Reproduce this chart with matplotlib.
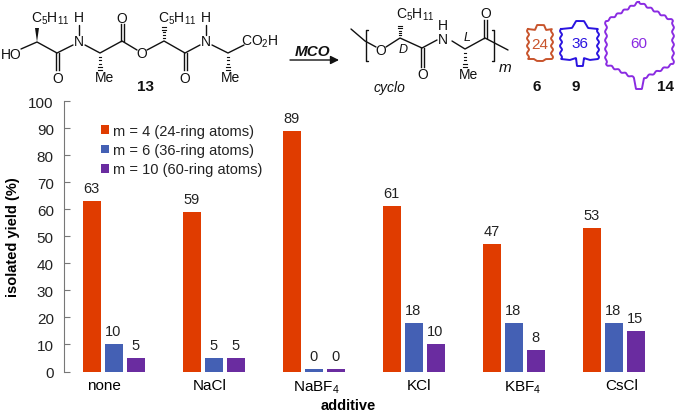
import numpy as np
import matplotlib
matplotlib.use("Agg")
import matplotlib.pyplot as plt

plt.rcParams['font.family'] = ['Liberation Sans', 'DejaVu Sans']
plt.rcParams['mathtext.fontset'] = 'custom'
plt.rcParams['mathtext.rm'] = 'Liberation Sans'

W, H = 677, 414
additives = ['none', 'NaCl', 'NaBF$_{\\mathrm{4}}$', 'KCl', 'KBF$_{\\mathrm{4}}$', 'CsCl']
yield_24 = [63, 59, 89, 61, 47, 53]
yield_36 = [10, 5, 1, 18, 18, 18]
yield_60 = [5, 5, 1, 10, 8, 15]
labels_24 = ['63', '59', '89', '61', '47', '53']
labels_36 = ['10', '5', '0', '18', '18', '18']
labels_60 = ['5', '5', '0', '10', '8', '15']
legend_names = ['m = 4 (24-ring atoms)', 'm = 6 (36-ring atoms)', 'm = 10 (60-ring atoms)']
colors = ['#E03C00', '#4460B4', '#6A2CA0']

fig = plt.figure(figsize=(W / 100, H / 100), dpi=100)
fig.patch.set_facecolor('white')

# ---- chart ----
L, R, T, B = 63.5, 663.5, 102.0, 372.5
ax = fig.add_axes([L / W, 1 - B / H, (R - L) / W, (B - T) / H])
x = np.arange(len(additives))
off, bw = 0.22, 0.18
series = [(yield_24, labels_24), (yield_36, labels_36), (yield_60, labels_60)]
for i, (vals, labs) in enumerate(series):
    bars = ax.bar(x + (i - 1) * off, vals, bw, color=colors[i], label=legend_names[i], linewidth=0)
    for r, lab in zip(bars, labs):
        ax.text(r.get_x() + r.get_width() / 2, r.get_height() + 2.3, lab, ha='center', va='bottom',
                fontsize=10.5, color='#222222')
ax.set_xlim(-0.5, 5.5)
ax.set_ylim(0, 100)
ax.set_yticks(range(0, 101, 10))
tick_shift = np.array([-0.10, -0.035, 0.03, 0.05, 0.09, 0.08])
ax.set_xticks(x + tick_shift)
ax.set_xticklabels(additives, fontsize=11, color='black')
ax.tick_params(axis='y', direction='in', length=4.5, width=0.8, color='#777777', labelsize=11, pad=7, labelcolor='#222222')
ax.tick_params(axis='x', length=0, pad=5)
for s in ['top', 'right', 'bottom']:
    ax.spines[s].set_visible(False)
ax.spines['left'].set_color('#777777')
ax.spines['left'].set_linewidth(0.8)
ax.patch.set_alpha(0)
ax.set_ylabel('isolated yield (%)', fontsize=10.5, fontweight='bold', va='center')
ax.yaxis.set_label_coords((13 - L) / (R - L), (B - 237.5) / (B - T))
ax.set_xlabel('additive', fontsize=10.5, fontweight='bold', va='center')
ax.xaxis.set_label_coords((348 - L) / (R - L), (B - 406.5) / (B - T))
ax.legend(loc='upper left', bbox_to_anchor=((98 - L) / (R - L), (B - 122) / (B - T)), frameon=False, fontsize=10.5,
          handlelength=0.55, handleheight=0.55, handletextpad=0.3, labelspacing=0.36, borderpad=0, borderaxespad=0.2,
          labelcolor='#222222')

# ---- scheme (pixel coordinates) ----
sc = fig.add_axes([0, 0, 1, 1])
sc.set_xlim(0, W)
sc.set_ylim(H, 0)
sc.axis('off')
sc.patch.set_alpha(0)
K = '#111111'

def bond(*pts, lw=1.0, c=K):
    xs, ys = zip(*pts)
    sc.plot(xs, ys, color=c, lw=lw, solid_capstyle='round')

def dbl(x0, y0, x1, y1, d=3.0):
    sc.plot([x0 - d / 2, x1 - d / 2], [y0, y1], color=K, lw=1.0)
    sc.plot([x0 + d / 2, x1 + d / 2], [y0, y1], color=K, lw=1.0)

def hash_w(x0, y0, y1, n=6):
    for t_ in np.linspace(0.05, 1, n):
        yy = y0 + (y1 - y0) * t_
        hw = 0.3 + 1.7 * t_
        sc.plot([x0 - hw, x0 + hw], [yy, yy], color=K, lw=0.8)

def wedge(x0, y0, y1):
    sc.fill([x0, x0 - 2, x0 + 2], [y0, y1, y1], color=K, lw=0)

def t(xx, yy, s, size=10, **kw):
    sc.text(xx, yy, s, ha='center', va='center', fontsize=size, color=kw.pop('color', K), **kw)

# compound 13
bond((21, 50), (37, 43), (57, 54), (73, 46))
bond((85, 46), (100, 54), (122, 42), (137, 51))
bond((147, 51), (164, 42), (185, 54), (200, 46))
bond((212, 46), (228, 54), (244, 46))
bond((79, 36), (79, 26))
bond((206, 36), (206, 26))
dbl(57, 54, 57, 71)
dbl(122, 42, 122, 25)
dbl(185, 54, 185, 71)
wedge(37, 43, 29)
hash_w(100, 54, 71)
hash_w(164, 42, 28)
hash_w(228, 54, 71)
t(11, 55, 'HO')
t(50, 19, 'C$_{\\mathrm{5}}$H$_{\\mathrm{11}}$')
t(79, 18, 'H')
t(79, 42, 'N')
t(58, 79, 'O')
t(122, 19, 'O')
t(104, 78, 'Me')
t(142, 54, 'O')
t(177, 19, 'C$_{\\mathrm{5}}$H$_{\\mathrm{11}}$')
t(206, 18, 'H')
t(206, 42, 'N')
t(185, 79, 'O')
t(231, 78, 'Me')
t(260, 42, 'CO$_{\\mathrm{2}}$H')
t(145, 87, '13', size=11, fontweight='bold')

# arrow
sc.annotate('', xy=(339, 61), xytext=(290, 61), arrowprops=dict(arrowstyle='-|>,head_length=0.5,head_width=0.25', color=K, lw=1.0, shrinkA=0, shrinkB=0))
t(313, 52, 'MCO', size=11, fontweight='bold', fontstyle='italic')

# repeat unit
bond((351, 30), (365, 42), (376, 48))
bond((386, 48), (400, 39), (422, 49), (437, 41))
bond((452, 42), (465, 50), (485, 39), (508, 51))
bond((368, 31), (366, 31), (366, 62), (368, 62))
bond((492, 31), (494, 31), (494, 62), (492, 62))
dbl(422, 49, 422, 68)
dbl(485, 39, 485, 21)
hash_w(400, 39, 27)
hash_w(465, 50, 68)
t(381, 51, 'O')
t(415, 15, 'C$_{\\mathrm{5}}$H$_{\\mathrm{11}}$')
t(403, 50, 'D', size=9, fontstyle='italic')
t(423, 75, 'O')
t(443, 26, 'H')
t(443, 40, 'N')
t(467, 38, 'L', size=9, fontstyle='italic')
t(468, 75, 'Me')
t(486, 14, 'O')
t(505, 68, 'm', size=11, fontstyle='italic')
t(389, 88, 'cyclo', size=10, fontstyle='italic')

# macrocycle outlines
def wavy(corners, lam, amp, color, lw=1.4):
    pts = np.array(corners + corners[:1], float)
    out = []
    for a, b in zip(pts[:-1], pts[1:]):
        seg = b - a
        ln = np.hypot(*seg)
        u = seg / ln
        n = np.array([-u[1], u[0]])
        k = round(ln / lam) if ln >= 12 else 0
        for s in np.linspace(0, 1, max(int(ln * 3), 4), endpoint=False):
            out.append(a + seg * s + n * amp * np.sin(2 * np.pi * k * s))
    out = np.array(out)
    w = 3
    kern = np.ones(w) / w
    xs = np.convolve(np.r_[out[-w:, 0], out[:, 0], out[:w, 0]], kern, 'same')[w:-w]
    ys = np.convolve(np.r_[out[-w:, 1], out[:, 1], out[:w, 1]], kern, 'same')[w:-w]
    sc.plot(np.r_[xs, xs[0]], np.r_[ys, ys[0]], color=color, lw=lw, solid_joinstyle='round')

wavy([(528, 30), (535, 31), (537, 26), (544, 26), (546, 31), (552, 30), (552, 60), (546, 60), (543, 62), (537, 62), (534, 60), (528, 60)],
     8, 1.0, '#C8542C')
wavy([(561, 30), (572, 29), (576, 22), (584, 22), (588, 29), (598, 30), (598, 60), (590, 61), (584, 59), (583, 67), (577, 67), (576, 59), (570, 61), (561, 60)],
     8, 1.0, '#2A14E0')
wavy([(639, 3), (673, 22), (673, 65), (644, 79), (642, 90), (636, 90), (634, 79), (606, 65), (606, 22)],
     8, 0.9, '#8A2BE2')
t(540, 45, '24', size=11, color='#C8542C')
t(580, 44, '36', size=11, color='#2A14E0')
t(639, 44, '60', size=11, color='#8A2BE2')
t(537, 87, '6', size=11, fontweight='bold')
t(576, 87, '9', size=11, fontweight='bold')
t(666, 87, '14', size=11, fontweight='bold')

fig.savefig('out.png', dpi=100)
